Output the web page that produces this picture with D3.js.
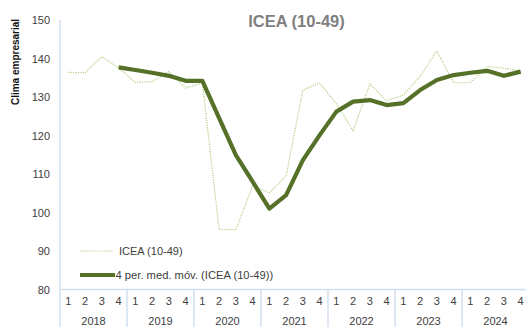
<!DOCTYPE html>
<html>
<head>
<meta charset="utf-8">
<script src="https://cdn.jsdelivr.net/npm/d3@7"></script>
<style>
  html, body { margin: 0; padding: 0; background: #ffffff; }
  svg { display: block; font-family: "Liberation Sans", Arial, sans-serif; }
</style>
</head>
<body>
<svg id="chart" width="526" height="327"></svg>
<script>
// Quarterly business climate index, 2018–2024
const years = ["2018", "2019", "2020", "2021", "2022", "2023", "2024"];
const quarters = ["1", "2", "3", "4"];
const icea = [136.4, 136.3, 140.5, 137.5, 133.8, 134.0, 136.6, 132.3,
              133.6, 95.6, 95.5, 107.0, 105.1, 109.5, 131.8, 133.6,
              128.3, 121.2, 133.4, 129.0, 130.5, 135.3, 142.0, 133.7,
              133.7, 137.9, 137.5, 136.8];
// 4-period moving-average trendline
const movingAvg = [null, null, null, 137.7, 137.0, 136.3, 135.5, 134.2,
                   134.2, 124.5, 114.9, 108.0, 101.0, 104.5, 113.6, 120.1,
                   126.2, 128.8, 129.2, 127.9, 128.4, 131.8, 134.4, 135.7,
                   136.3, 136.8, 135.5, 136.6];
const yTicks = [80, 90, 100, 110, 120, 130, 140, 150];
const title = "ICEA (10-49)";
const yTitle = "Clima empresarial";
const seriesNames = ["ICEA (10-49)", "4 per. med. móv. (ICEA (10-49))"];

const svg = d3.select("#chart");
const plotLeft = 60, plotRight = 529, plotTop = 20, plotBottom = 289.5;
const axisColor = "#d3dff0";
const textColor = "#404040";
const lightGreen = "#b3cf85";
const darkGreen = "#557027";
const fontFamily = "'Liberation Sans', Arial, sans-serif";

const periods = years.flatMap(yr => quarters.map(q => yr + "-" + q));
const x = d3.scaleBand().domain(periods).range([plotLeft, plotRight]).padding(0);
const xYear = d3.scaleBand().domain(years).range([plotLeft, plotRight]).padding(0);
const y = d3.scaleLinear().domain([80, 150]).range([plotBottom, plotTop]);
const cx = p => x(p) + x.bandwidth() / 2;

// Title
svg.append("text")
  .attr("x", 296.5).attr("y", 26.5)
  .attr("text-anchor", "middle")
  .attr("font-size", 16.5).attr("font-weight", "bold")
  .attr("fill", "#7f7f7f")
  .text(title);

// Y axis title
svg.append("text")
  .attr("transform", "translate(19,62) rotate(-90)")
  .attr("text-anchor", "middle")
  .attr("font-size", 10).attr("font-weight", "bold")
  .attr("fill", "#111")
  .text(yTitle);

// Y axis
const yAxis = svg.append("g")
  .attr("transform", `translate(${plotLeft},0)`)
  .call(d3.axisLeft(y).tickValues(yTicks).tickSize(0).tickPadding(10));
yAxis.select(".domain").remove();
yAxis.selectAll("text").attr("font-size", 11).attr("fill", textColor)
  .attr("font-family", fontFamily);
svg.append("line")
  .attr("x1", plotLeft).attr("x2", plotLeft)
  .attr("y1", y(150)).attr("y2", 327)
  .attr("stroke", axisColor).attr("stroke-width", 1.5);

// X axis: quarter row, year row and year separators
svg.append("line")
  .attr("x1", plotLeft).attr("x2", 526)
  .attr("y1", plotBottom).attr("y2", plotBottom)
  .attr("stroke", axisColor).attr("stroke-width", 1.5);

const qAxis = svg.append("g")
  .attr("transform", `translate(0,${plotBottom})`)
  .call(d3.axisBottom(x).tickSize(0).tickPadding(8).tickFormat(p => p.split("-")[1]));
qAxis.select(".domain").remove();
qAxis.selectAll("text").attr("font-size", 11).attr("fill", textColor)
  .attr("font-family", fontFamily);

const yrAxis = svg.append("g")
  .attr("transform", `translate(0,${plotBottom + 20})`)
  .call(d3.axisBottom(xYear).tickSize(0).tickPadding(8));
yrAxis.select(".domain").remove();
yrAxis.selectAll("text").attr("font-size", 11).attr("fill", textColor)
  .attr("font-family", fontFamily);

svg.append("g").selectAll("line")
  .data(years.slice(1))
  .join("line")
  .attr("x1", d => xYear(d)).attr("x2", d => xYear(d))
  .attr("y1", plotBottom).attr("y2", 327)
  .attr("stroke", axisColor).attr("stroke-width", 1.5);

// Series lines
const line = d3.line()
  .defined(d => d.v != null)
  .x(d => cx(d.p))
  .y(d => y(d.v));

svg.append("path")
  .datum(periods.map((p, i) => ({ p, v: icea[i] })))
  .attr("d", line)
  .attr("fill", "none")
  .attr("stroke", lightGreen)
  .attr("stroke-width", 1.2)
  .attr("stroke-dasharray", "1.2,1.2");

svg.append("path")
  .datum(periods.map((p, i) => ({ p, v: movingAvg[i] })))
  .attr("d", line)
  .attr("fill", "none")
  .attr("stroke", darkGreen)
  .attr("stroke-width", 4.2)
  .attr("stroke-linejoin", "round");

// Legend
const legend = svg.append("g");
legend.append("line")
  .attr("x1", 80).attr("x2", 113).attr("y1", 251).attr("y2", 251)
  .attr("stroke", lightGreen).attr("stroke-width", 1.2)
  .attr("stroke-dasharray", "1.2,1.2");
legend.append("text")
  .attr("x", 119).attr("y", 255)
  .attr("font-size", 11).attr("fill", textColor)
  .text(seriesNames[0]);
legend.append("line")
  .attr("x1", 80).attr("x2", 115).attr("y1", 275).attr("y2", 275)
  .attr("stroke", darkGreen).attr("stroke-width", 4.2);
legend.append("text")
  .attr("x", 115.5).attr("y", 279)
  .attr("font-size", 11.2).attr("fill", textColor)
  .text(seriesNames[1]);
</script>
</body>
</html>
